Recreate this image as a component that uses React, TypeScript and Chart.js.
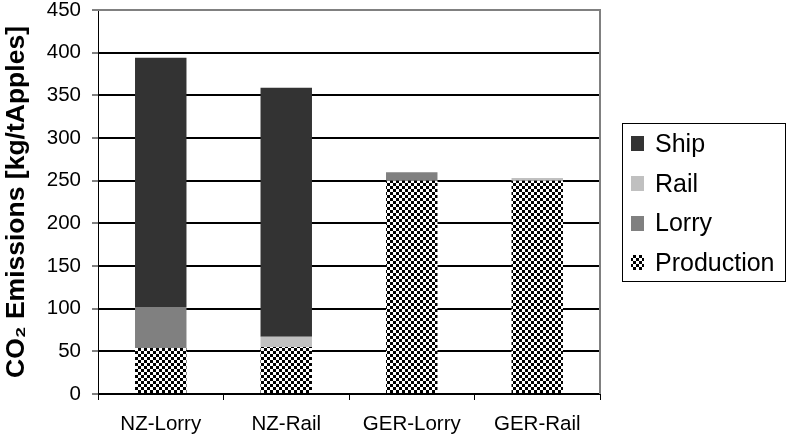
import React, { useEffect, useRef } from "react";
import { Chart, registerables } from "chart.js";
Chart.register(...registerables);

const categories = ["NZ-Lorry", "NZ-Rail", "GER-Lorry", "GER-Rail"];
const production = [54, 55, 250, 250];
const lorry = [48, 0, 10, 0];
const rail = [0, 12, 0, 3];
const ship = [292, 292, 0, 0];
const seriesNames = ["Production", "Lorry", "Rail", "Ship"];
const yTitle = "CO₂ Emissions [kg/tApples]";

const FONT = "'Liberation Sans', Arial, Helvetica, sans-serif";

function makeChecker(): CanvasPattern | string {
  const c = document.createElement("canvas");
  c.width = 6;
  c.height = 6;
  const g = c.getContext("2d");
  if (!g) return "#808080";
  g.fillStyle = "#ffffff";
  g.fillRect(0, 0, 6, 6);
  g.fillStyle = "#000000";
  g.fillRect(0, 0, 3, 3);
  g.fillRect(3, 3, 3, 3);
  const p = g.createPattern(c, "repeat");
  return p || "#808080";
}

const boxLegend = {
  id: "boxLegend",
  afterDraw(chart: any) {
    const ctx = chart.ctx;
    const { left, right, top, bottom } = chart.chartArea;
    ctx.save();
    ctx.strokeStyle = "#808080";
    ctx.lineWidth = 2;
    ctx.beginPath();
    ctx.moveTo(left, top);
    ctx.lineTo(right, top);
    ctx.lineTo(right, bottom);
    ctx.stroke();

    ctx.strokeStyle = "#000000";
    ctx.lineWidth = 1;
    ctx.strokeRect(622.5, 123.5, 163, 158);
    const ds = chart.data.datasets.slice().reverse();
    ds.forEach((d: any, i: number) => {
      const cy = 144 + i * 39.8;
      ctx.fillStyle = d.backgroundColor;
      ctx.fillRect(631, Math.round(cy - 8), 13, 15);
      ctx.fillStyle = "#000000";
      ctx.font = `25px ${FONT}`;
      ctx.textBaseline = "middle";
      ctx.textAlign = "left";
      ctx.fillText(d.label, 655, cy + 1);
    });
    ctx.restore();
  },
};

export default function App() {
  const ref = useRef<HTMLCanvasElement | null>(null);
  useEffect(() => {
    document.body.style.margin = "0";
    if (!ref.current) return;
    const checker = makeChecker();
    const colors = [checker, "#808080", "#c0c0c0", "#333333"];
    const values = [production, lorry, rail, ship];
    const chart = new Chart(ref.current, {
      type: "bar",
      data: {
        labels: categories,
        datasets: seriesNames.map((name, i) => ({
          label: name,
          data: values[i],
          backgroundColor: colors[i] as any,
          borderWidth: 0,
          categoryPercentage: 1,
          barPercentage: 0.41,
        })),
      },
      options: {
        animation: false,
        responsive: false,
        devicePixelRatio: 1,
        layout: { padding: { top: 10, right: 189, left: 0, bottom: 0 } },
        plugins: {
          legend: { display: false },
          tooltip: { enabled: false },
        },
        scales: {
          x: {
            stacked: true,
            offset: true,
            grid: {
              offset: true,
              drawOnChartArea: false,
              drawTicks: true,
              tickLength: 6,
              tickColor: "#000000",
              tickWidth: 1,
            },
            border: { display: true, color: "#000000", width: 1 },
            ticks: {
              color: "#000000",
              padding: 12,
              font: { family: FONT, size: 20.5 },
              maxRotation: 0,
            },
            afterFit: (s: any) => {
              s.height = 44;
              s.paddingLeft = 0;
              s.paddingRight = 0;
            },
          },
          y: {
            stacked: true,
            min: 0,
            max: 450,
            ticks: {
              stepSize: 50,
              color: "#000000",
              padding: 11,
              font: { family: FONT, size: 20.5 },
            },
            grid: {
              color: (c: any) => (c.tick && c.tick.value === 450 ? "#808080" : "#000000"),
              lineWidth: 2,
              tickLength: 6,
              tickColor: "#000000",
              tickWidth: 1,
            },
            border: { display: true, color: "#000000", width: 1 },
            title: {
              display: true,
              text: yTitle,
              color: "#000000",
              padding: { top: 1, bottom: 0 },
              font: { family: FONT, size: 26.5, weight: "bold" },
            },
            afterFit: (s: any) => {
              s.width = 98;
              s.paddingTop = 0;
              s.paddingBottom = 0;
            },
          },
        },
      },
      plugins: [boxLegend],
    });
    return () => chart.destroy();
  }, []);
  return (
    <div style={{ width: 789, height: 438 }}>
      <canvas ref={ref} width={789} height={438} />
    </div>
  );
}
